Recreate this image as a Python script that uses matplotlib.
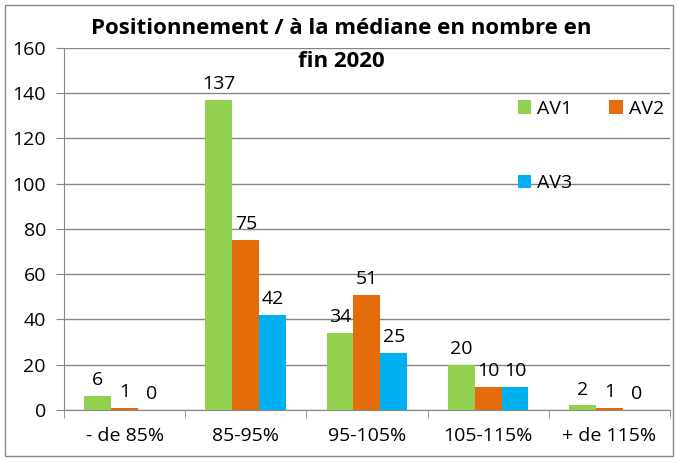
import numpy as np
import matplotlib.pyplot as plt
from matplotlib.patches import Rectangle

categories = ['- de 85%', '85-95%', '95-105%', '105-115%', '+ de 115%']
av1 = [6, 137, 34, 20, 2]
av2 = [1, 75, 51, 10, 1]
av3 = [0, 42, 25, 10, 0]
series_names = ['AV1', 'AV2', 'AV3']
colors = ['#92D050', '#E46C0A', '#00B0F0']

plt.rcParams['font.family'] = ['Open Sans', 'DejaVu Sans']

fig = plt.figure(figsize=(6.78, 4.62), dpi=100)
ax = fig.add_axes([0.0944, 0.1126, 0.8936, 0.7835])

x = np.arange(len(categories))
w = 0.222
bars = []
for i, (vals, name, c) in enumerate(zip([av1, av2, av3], series_names, colors)):
    b = ax.bar(x + (i - 1) * w, vals, w, color=c, label=name, zorder=3)
    bars.append(b)
    for xi, v in zip(x + (i - 1) * w, vals):
        ax.annotate(str(v), (xi, v), xytext=(0, 5), textcoords='offset points',
                    ha='center', va='bottom', fontsize=14, color='black')

ax.set_xlim(-0.5, len(categories) - 0.5)
ax.set_ylim(0, 160)
ax.set_yticks(range(0, 161, 20))
ax.set_xticks(x)
ax.set_xticklabels(categories)
ax.set_xticks(np.arange(-0.5, len(categories)), minor=True)
ax.tick_params(axis='x', which='major', length=0, pad=12, labelsize=14)
ax.tick_params(axis='x', which='minor', length=6, color='#868686')
ax.tick_params(axis='y', length=6, color='#868686', labelsize=14, pad=7)
ax.grid(axis='y', color='#868686', linewidth=1, zorder=0)
for s in ['top', 'right']:
    ax.spines[s].set_visible(False)
for s in ['left', 'bottom']:
    ax.spines[s].set_color('#868686')

handles = [bars[0], bars[2], bars[1]]
labels = ['AV1', 'AV3', 'AV2']
ax.legend(handles, labels, ncol=2, loc='upper left', bbox_to_anchor=(0.72, 0.905),
          frameon=False, fontsize=14, labelspacing=2.9, columnspacing=1.9,
          handlelength=0.7, handleheight=0.7, handletextpad=0.3)

fig.text(0.504, 0.939, 'Positionnement / à la médiane en nombre en',
         ha='center', va='center', fontsize=16, fontweight='bold')
fig.text(0.504, 0.866, 'fin 2020',
         ha='center', va='center', fontsize=16, fontweight='bold')

fig.patches.append(Rectangle((0.008, 0.012), 0.984, 0.978, transform=fig.transFigure,
                             fill=False, edgecolor='#868686', linewidth=1))

fig.savefig('out.png', dpi=100)
